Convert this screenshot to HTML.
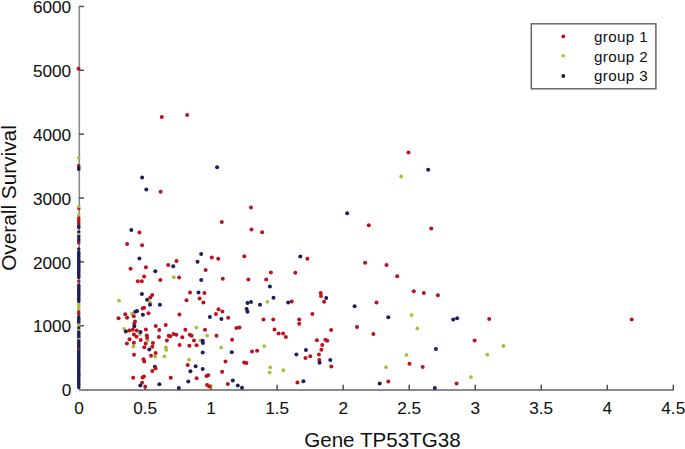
<!DOCTYPE html>
<html><head><meta charset="utf-8"><style>
html,body{margin:0;padding:0;background:#fff;}
svg{display:block;}
text{font-family:"Liberation Sans",sans-serif;fill:#111;}
</style></head><body>
<svg width="685" height="449" viewBox="0 0 685 449">
<rect width="685" height="449" fill="#fff"/>
<g font-size="17.2" stroke="#111" stroke-width="0.08">
<text x="71.2" y="396.26" text-anchor="end">0</text>
<text x="71.2" y="332.39" text-anchor="end">1000</text>
<text x="71.2" y="268.52" text-anchor="end">2000</text>
<text x="71.2" y="204.65" text-anchor="end">3000</text>
<text x="71.2" y="140.78" text-anchor="end">4000</text>
<text x="71.2" y="76.91" text-anchor="end">5000</text>
<text x="71.2" y="13.04" text-anchor="end">6000</text>
<text x="79.10" y="413.6" text-anchor="middle">0</text>
<text x="145.12" y="413.6" text-anchor="middle">0.5</text>
<text x="211.14" y="413.6" text-anchor="middle">1</text>
<text x="277.16" y="413.6" text-anchor="middle">1.5</text>
<text x="343.18" y="413.6" text-anchor="middle">2</text>
<text x="409.20" y="413.6" text-anchor="middle">2.5</text>
<text x="475.22" y="413.6" text-anchor="middle">3</text>
<text x="541.24" y="413.6" text-anchor="middle">3.5</text>
<text x="607.26" y="413.6" text-anchor="middle">4</text>
<text x="673.28" y="413.6" text-anchor="middle">4.5</text>
</g>
<text x="304.2" y="447.2" font-size="20.6">Gene TP53TG38</text>
<text transform="translate(16.4,198) rotate(-90)" text-anchor="middle" font-size="20.8">Overall Survival</text>
<line x1="79.3" y1="6.5" x2="79.3" y2="390" stroke="#8a8a8a" stroke-width="1.6"/>
<line x1="79" y1="390" x2="673.5" y2="390" stroke="#8a8a8a" stroke-width="1.8"/>

<line x1="79" y1="325.79" x2="84" y2="325.79" stroke="#505050" stroke-width="1.5"/>
<line x1="79" y1="261.92" x2="84" y2="261.92" stroke="#505050" stroke-width="1.5"/>
<line x1="79" y1="198.05" x2="84" y2="198.05" stroke="#505050" stroke-width="1.5"/>
<line x1="79" y1="134.18" x2="84" y2="134.18" stroke="#505050" stroke-width="1.5"/>
<line x1="79" y1="70.31" x2="84" y2="70.31" stroke="#505050" stroke-width="1.5"/>
<line x1="79" y1="6.44" x2="84" y2="6.44" stroke="#505050" stroke-width="1.5"/>
<line x1="145.12" y1="390" x2="145.12" y2="384.8" stroke="#444" stroke-width="1.4"/>
<line x1="211.14" y1="390" x2="211.14" y2="384.8" stroke="#444" stroke-width="1.4"/>
<line x1="277.16" y1="390" x2="277.16" y2="384.8" stroke="#444" stroke-width="1.4"/>
<line x1="343.18" y1="390" x2="343.18" y2="384.8" stroke="#444" stroke-width="1.4"/>
<line x1="409.20" y1="390" x2="409.20" y2="384.8" stroke="#444" stroke-width="1.4"/>
<line x1="475.22" y1="390" x2="475.22" y2="384.8" stroke="#444" stroke-width="1.4"/>
<line x1="541.24" y1="390" x2="541.24" y2="384.8" stroke="#444" stroke-width="1.4"/>
<line x1="607.26" y1="390" x2="607.26" y2="384.8" stroke="#444" stroke-width="1.4"/>
<line x1="673.28" y1="390" x2="673.28" y2="384.8" stroke="#444" stroke-width="1.4"/>

<g>
<circle cx="78.75" cy="157.7" r="1.75" fill="#b0bb34"/>
<circle cx="78.75" cy="165.4" r="1.75" fill="#c0101e"/>
<circle cx="78.75" cy="167.6" r="1.75" fill="#1b1d60"/>
<circle cx="78.75" cy="169.2" r="1.75" fill="#1b1d60"/>
<circle cx="78.75" cy="208.5" r="1.75" fill="#c0101e"/>
<circle cx="78.75" cy="206.7" r="1.75" fill="#b0bb34"/>
<circle cx="78.75" cy="214.9" r="1.75" fill="#b0bb34"/>
<circle cx="78.75" cy="218.0" r="1.75" fill="#c0101e"/>
<circle cx="78.75" cy="220.0" r="1.75" fill="#c0101e"/>
<circle cx="78.75" cy="222.0" r="1.75" fill="#c0101e"/>
<circle cx="78.75" cy="224.0" r="1.75" fill="#c0101e"/>
<circle cx="78.75" cy="226.0" r="1.75" fill="#1b1d60"/>
<circle cx="78.75" cy="227.5" r="1.75" fill="#1b1d60"/>
<circle cx="78.75" cy="232.0" r="1.75" fill="#1b1d60"/>
<circle cx="78.75" cy="234.7" r="1.75" fill="#b0bb34"/>
<circle cx="78.75" cy="236.5" r="1.75" fill="#1b1d60"/>
<circle cx="78.75" cy="239.0" r="1.75" fill="#1b1d60"/>
<circle cx="78.75" cy="241.0" r="1.75" fill="#1b1d60"/>
<circle cx="78.75" cy="242.9" r="1.75" fill="#c0101e"/>
<circle cx="78.75" cy="249.0" r="1.75" fill="#1b1d60"/>
<circle cx="78.75" cy="261.0" r="1.75" fill="#c0101e"/>
<circle cx="78.75" cy="252.0" r="1.75" fill="#1b1d60"/>
<circle cx="78.75" cy="253.5" r="1.75" fill="#1b1d60"/>
<circle cx="78.75" cy="255.0" r="1.75" fill="#1b1d60"/>
<circle cx="78.75" cy="256.5" r="1.75" fill="#1b1d60"/>
<circle cx="78.75" cy="258.0" r="1.75" fill="#1b1d60"/>
<circle cx="78.75" cy="259.5" r="1.75" fill="#1b1d60"/>
<circle cx="78.75" cy="261.0" r="1.75" fill="#1b1d60"/>
<circle cx="78.75" cy="262.5" r="1.75" fill="#1b1d60"/>
<circle cx="78.75" cy="264.0" r="1.75" fill="#1b1d60"/>
<circle cx="78.75" cy="265.5" r="1.75" fill="#1b1d60"/>
<circle cx="78.75" cy="267.0" r="1.75" fill="#1b1d60"/>
<circle cx="78.75" cy="268.5" r="1.75" fill="#1b1d60"/>
<circle cx="78.75" cy="270.0" r="1.75" fill="#1b1d60"/>
<circle cx="78.75" cy="271.5" r="1.75" fill="#1b1d60"/>
<circle cx="78.75" cy="273.0" r="1.75" fill="#1b1d60"/>
<circle cx="78.75" cy="274.5" r="1.75" fill="#1b1d60"/>
<circle cx="78.75" cy="276.0" r="1.75" fill="#1b1d60"/>
<circle cx="78.75" cy="277.5" r="1.75" fill="#1b1d60"/>
<circle cx="78.75" cy="281.3" r="1.75" fill="#c0101e"/>
<circle cx="78.75" cy="285.0" r="1.75" fill="#1b1d60"/>
<circle cx="78.75" cy="286.5" r="1.75" fill="#1b1d60"/>
<circle cx="78.75" cy="288.0" r="1.75" fill="#1b1d60"/>
<circle cx="78.75" cy="289.5" r="1.75" fill="#1b1d60"/>
<circle cx="78.75" cy="291.0" r="1.75" fill="#1b1d60"/>
<circle cx="78.75" cy="292.5" r="1.75" fill="#1b1d60"/>
<circle cx="78.75" cy="294.0" r="1.75" fill="#1b1d60"/>
<circle cx="78.75" cy="295.5" r="1.75" fill="#1b1d60"/>
<circle cx="78.75" cy="297.0" r="1.75" fill="#1b1d60"/>
<circle cx="78.75" cy="298.5" r="1.75" fill="#1b1d60"/>
<circle cx="78.75" cy="300.0" r="1.75" fill="#1b1d60"/>
<circle cx="78.75" cy="301.5" r="1.75" fill="#1b1d60"/>
<circle cx="78.75" cy="304.5" r="1.75" fill="#b0bb34"/>
<circle cx="78.75" cy="307.0" r="1.75" fill="#b0bb34"/>
<circle cx="78.75" cy="309.5" r="1.75" fill="#b0bb34"/>
<circle cx="78.75" cy="312.0" r="1.75" fill="#c0101e"/>
<circle cx="78.75" cy="314.0" r="1.75" fill="#c0101e"/>
<circle cx="78.75" cy="317.0" r="1.75" fill="#1b1d60"/>
<circle cx="78.75" cy="318.5" r="1.75" fill="#1b1d60"/>
<circle cx="78.75" cy="320.0" r="1.75" fill="#1b1d60"/>
<circle cx="78.75" cy="321.5" r="1.75" fill="#1b1d60"/>
<circle cx="78.75" cy="323.0" r="1.75" fill="#1b1d60"/>
<circle cx="78.75" cy="325.0" r="1.75" fill="#b0bb34"/>
<circle cx="78.75" cy="328.0" r="1.75" fill="#1b1d60"/>
<circle cx="78.75" cy="330.6" r="1.75" fill="#b0bb34"/>
<circle cx="78.75" cy="332.0" r="1.75" fill="#1b1d60"/>
<circle cx="78.75" cy="333.5" r="1.75" fill="#1b1d60"/>
<circle cx="78.75" cy="335.0" r="1.75" fill="#1b1d60"/>
<circle cx="78.75" cy="336.5" r="1.75" fill="#1b1d60"/>
<circle cx="78.75" cy="338.0" r="1.75" fill="#1b1d60"/>
<circle cx="78.75" cy="339.5" r="1.75" fill="#b0bb34"/>
<circle cx="78.75" cy="341.0" r="1.75" fill="#1b1d60"/>
<circle cx="78.75" cy="342.5" r="1.75" fill="#1b1d60"/>
<circle cx="78.75" cy="344.0" r="1.75" fill="#1b1d60"/>
<circle cx="78.75" cy="345.5" r="1.75" fill="#1b1d60"/>
<circle cx="78.75" cy="347.0" r="1.75" fill="#1b1d60"/>
<circle cx="78.75" cy="348.5" r="1.75" fill="#1b1d60"/>
<circle cx="78.75" cy="350.0" r="1.75" fill="#c0101e"/>
<circle cx="78.75" cy="374.4" r="1.75" fill="#c0101e"/>
<circle cx="78.75" cy="351.5" r="1.75" fill="#1b1d60"/>
<circle cx="78.75" cy="353.0" r="1.75" fill="#1b1d60"/>
<circle cx="78.75" cy="354.5" r="1.75" fill="#1b1d60"/>
<circle cx="78.75" cy="356.0" r="1.75" fill="#1b1d60"/>
<circle cx="78.75" cy="357.5" r="1.75" fill="#1b1d60"/>
<circle cx="78.75" cy="359.0" r="1.75" fill="#1b1d60"/>
<circle cx="78.75" cy="360.5" r="1.75" fill="#1b1d60"/>
<circle cx="78.75" cy="362.0" r="1.75" fill="#1b1d60"/>
<circle cx="78.75" cy="363.5" r="1.75" fill="#1b1d60"/>
<circle cx="78.75" cy="365.0" r="1.75" fill="#1b1d60"/>
<circle cx="78.75" cy="366.5" r="1.75" fill="#1b1d60"/>
<circle cx="78.75" cy="368.0" r="1.75" fill="#1b1d60"/>
<circle cx="78.75" cy="369.5" r="1.75" fill="#1b1d60"/>
<circle cx="78.75" cy="371.0" r="1.75" fill="#1b1d60"/>
<circle cx="78.75" cy="372.5" r="1.75" fill="#1b1d60"/>
<circle cx="78.75" cy="374.0" r="1.75" fill="#1b1d60"/>
<circle cx="78.75" cy="375.5" r="1.75" fill="#1b1d60"/>
<circle cx="78.75" cy="377.0" r="1.75" fill="#1b1d60"/>
<circle cx="78.75" cy="378.5" r="1.75" fill="#1b1d60"/>
<circle cx="78.75" cy="380.0" r="1.75" fill="#1b1d60"/>
<circle cx="78.75" cy="381.5" r="1.75" fill="#1b1d60"/>
<circle cx="78.75" cy="383.0" r="1.75" fill="#1b1d60"/>
<circle cx="78.75" cy="384.5" r="1.75" fill="#1b1d60"/>
<circle cx="78.75" cy="386.0" r="1.75" fill="#1b1d60"/>
<circle cx="78.75" cy="387.5" r="1.75" fill="#1b1d60"/>
<circle cx="401.20" cy="176.5" r="1.9" fill="#b0bb34"/>
<circle cx="503.40" cy="346.0" r="1.9" fill="#b0bb34"/>
<circle cx="487.30" cy="354.7" r="1.9" fill="#b0bb34"/>
<circle cx="173.80" cy="277.2" r="1.9" fill="#b0bb34"/>
<circle cx="150.00" cy="302.2" r="1.9" fill="#b0bb34"/>
<circle cx="119.10" cy="300.7" r="1.9" fill="#b0bb34"/>
<circle cx="132.10" cy="313.7" r="1.9" fill="#b0bb34"/>
<circle cx="267.40" cy="301.8" r="1.9" fill="#b0bb34"/>
<circle cx="124.30" cy="329.0" r="1.9" fill="#b0bb34"/>
<circle cx="139.80" cy="334.1" r="1.9" fill="#b0bb34"/>
<circle cx="147.50" cy="340.0" r="1.9" fill="#b0bb34"/>
<circle cx="133.40" cy="346.5" r="1.9" fill="#b0bb34"/>
<circle cx="155.20" cy="356.4" r="1.9" fill="#b0bb34"/>
<circle cx="196.30" cy="327.6" r="1.9" fill="#b0bb34"/>
<circle cx="207.20" cy="335.6" r="1.9" fill="#b0bb34"/>
<circle cx="200.50" cy="340.5" r="1.9" fill="#b0bb34"/>
<circle cx="189.10" cy="359.7" r="1.9" fill="#b0bb34"/>
<circle cx="210.80" cy="385.8" r="1.9" fill="#b0bb34"/>
<circle cx="221.20" cy="347.6" r="1.9" fill="#b0bb34"/>
<circle cx="264.20" cy="346.1" r="1.9" fill="#b0bb34"/>
<circle cx="270.20" cy="367.3" r="1.9" fill="#b0bb34"/>
<circle cx="269.70" cy="372.4" r="1.9" fill="#b0bb34"/>
<circle cx="283.30" cy="370.2" r="1.9" fill="#b0bb34"/>
<circle cx="411.70" cy="315.1" r="1.9" fill="#b0bb34"/>
<circle cx="417.30" cy="328.5" r="1.9" fill="#b0bb34"/>
<circle cx="406.50" cy="354.9" r="1.9" fill="#b0bb34"/>
<circle cx="386.00" cy="367.2" r="1.9" fill="#b0bb34"/>
<circle cx="470.90" cy="377.1" r="1.9" fill="#b0bb34"/>
<circle cx="165.90" cy="347.5" r="1.9" fill="#b0bb34"/>
<circle cx="166.20" cy="349.9" r="1.9" fill="#b0bb34"/>
<circle cx="164.40" cy="356.3" r="1.9" fill="#b0bb34"/>
<circle cx="78.50" cy="68.8" r="2.0" fill="#c0101e"/>
<circle cx="161.80" cy="117.1" r="2.0" fill="#c0101e"/>
<circle cx="187.10" cy="115.1" r="2.0" fill="#c0101e"/>
<circle cx="160.60" cy="191.8" r="2.0" fill="#c0101e"/>
<circle cx="408.50" cy="152.4" r="2.0" fill="#c0101e"/>
<circle cx="368.80" cy="225.3" r="2.0" fill="#c0101e"/>
<circle cx="431.30" cy="228.5" r="2.0" fill="#c0101e"/>
<circle cx="251.00" cy="207.5" r="2.0" fill="#c0101e"/>
<circle cx="221.80" cy="222.1" r="2.0" fill="#c0101e"/>
<circle cx="251.50" cy="229.4" r="2.0" fill="#c0101e"/>
<circle cx="262.10" cy="232.2" r="2.0" fill="#c0101e"/>
<circle cx="139.40" cy="232.4" r="2.0" fill="#c0101e"/>
<circle cx="127.10" cy="244.1" r="2.0" fill="#c0101e"/>
<circle cx="142.10" cy="245.3" r="2.0" fill="#c0101e"/>
<circle cx="489.20" cy="319.1" r="2.0" fill="#c0101e"/>
<circle cx="631.70" cy="319.5" r="2.0" fill="#c0101e"/>
<circle cx="130.60" cy="268.8" r="2.0" fill="#c0101e"/>
<circle cx="145.90" cy="267.2" r="2.0" fill="#c0101e"/>
<circle cx="168.20" cy="265.1" r="2.0" fill="#c0101e"/>
<circle cx="144.10" cy="276.5" r="2.0" fill="#c0101e"/>
<circle cx="137.80" cy="281.2" r="2.0" fill="#c0101e"/>
<circle cx="141.80" cy="281.2" r="2.0" fill="#c0101e"/>
<circle cx="160.30" cy="279.9" r="2.0" fill="#c0101e"/>
<circle cx="142.60" cy="308.5" r="2.0" fill="#c0101e"/>
<circle cx="144.10" cy="307.8" r="2.0" fill="#c0101e"/>
<circle cx="148.50" cy="313.2" r="2.0" fill="#c0101e"/>
<circle cx="125.30" cy="314.3" r="2.0" fill="#c0101e"/>
<circle cx="176.50" cy="261.0" r="2.0" fill="#c0101e"/>
<circle cx="211.80" cy="257.4" r="2.0" fill="#c0101e"/>
<circle cx="218.20" cy="258.8" r="2.0" fill="#c0101e"/>
<circle cx="244.30" cy="256.3" r="2.0" fill="#c0101e"/>
<circle cx="205.60" cy="269.9" r="2.0" fill="#c0101e"/>
<circle cx="179.10" cy="277.5" r="2.0" fill="#c0101e"/>
<circle cx="222.80" cy="278.8" r="2.0" fill="#c0101e"/>
<circle cx="248.40" cy="279.4" r="2.0" fill="#c0101e"/>
<circle cx="266.20" cy="279.4" r="2.0" fill="#c0101e"/>
<circle cx="270.90" cy="272.5" r="2.0" fill="#c0101e"/>
<circle cx="190.00" cy="292.6" r="2.0" fill="#c0101e"/>
<circle cx="204.40" cy="292.9" r="2.0" fill="#c0101e"/>
<circle cx="186.50" cy="300.3" r="2.0" fill="#c0101e"/>
<circle cx="199.60" cy="298.5" r="2.0" fill="#c0101e"/>
<circle cx="203.40" cy="302.4" r="2.0" fill="#c0101e"/>
<circle cx="218.50" cy="309.3" r="2.0" fill="#c0101e"/>
<circle cx="222.40" cy="311.5" r="2.0" fill="#c0101e"/>
<circle cx="215.90" cy="314.1" r="2.0" fill="#c0101e"/>
<circle cx="179.40" cy="314.4" r="2.0" fill="#c0101e"/>
<circle cx="307.40" cy="258.8" r="2.0" fill="#c0101e"/>
<circle cx="365.10" cy="262.8" r="2.0" fill="#c0101e"/>
<circle cx="295.30" cy="272.8" r="2.0" fill="#c0101e"/>
<circle cx="320.70" cy="292.9" r="2.0" fill="#c0101e"/>
<circle cx="321.00" cy="296.0" r="2.0" fill="#c0101e"/>
<circle cx="324.10" cy="301.8" r="2.0" fill="#c0101e"/>
<circle cx="291.80" cy="301.5" r="2.0" fill="#c0101e"/>
<circle cx="312.40" cy="314.0" r="2.0" fill="#c0101e"/>
<circle cx="386.50" cy="264.9" r="2.0" fill="#c0101e"/>
<circle cx="397.20" cy="276.2" r="2.0" fill="#c0101e"/>
<circle cx="413.80" cy="291.2" r="2.0" fill="#c0101e"/>
<circle cx="423.80" cy="292.9" r="2.0" fill="#c0101e"/>
<circle cx="437.90" cy="295.3" r="2.0" fill="#c0101e"/>
<circle cx="376.50" cy="302.5" r="2.0" fill="#c0101e"/>
<circle cx="118.50" cy="318.3" r="2.0" fill="#c0101e"/>
<circle cx="127.10" cy="317.7" r="2.0" fill="#c0101e"/>
<circle cx="133.80" cy="316.2" r="2.0" fill="#c0101e"/>
<circle cx="135.00" cy="321.6" r="2.0" fill="#c0101e"/>
<circle cx="134.30" cy="323.8" r="2.0" fill="#c0101e"/>
<circle cx="129.30" cy="330.6" r="2.0" fill="#c0101e"/>
<circle cx="132.80" cy="329.7" r="2.0" fill="#c0101e"/>
<circle cx="136.80" cy="330.4" r="2.0" fill="#c0101e"/>
<circle cx="145.90" cy="329.5" r="2.0" fill="#c0101e"/>
<circle cx="155.70" cy="326.0" r="2.0" fill="#c0101e"/>
<circle cx="159.30" cy="329.9" r="2.0" fill="#c0101e"/>
<circle cx="133.90" cy="334.6" r="2.0" fill="#c0101e"/>
<circle cx="136.50" cy="336.7" r="2.0" fill="#c0101e"/>
<circle cx="146.80" cy="335.6" r="2.0" fill="#c0101e"/>
<circle cx="147.10" cy="337.8" r="2.0" fill="#c0101e"/>
<circle cx="129.50" cy="339.3" r="2.0" fill="#c0101e"/>
<circle cx="140.70" cy="340.0" r="2.0" fill="#c0101e"/>
<circle cx="158.90" cy="337.0" r="2.0" fill="#c0101e"/>
<circle cx="165.70" cy="325.1" r="2.0" fill="#c0101e"/>
<circle cx="173.50" cy="334.0" r="2.0" fill="#c0101e"/>
<circle cx="168.70" cy="335.7" r="2.0" fill="#c0101e"/>
<circle cx="166.90" cy="340.6" r="2.0" fill="#c0101e"/>
<circle cx="126.90" cy="343.5" r="2.0" fill="#c0101e"/>
<circle cx="133.90" cy="342.8" r="2.0" fill="#c0101e"/>
<circle cx="145.70" cy="343.5" r="2.0" fill="#c0101e"/>
<circle cx="144.30" cy="347.2" r="2.0" fill="#c0101e"/>
<circle cx="152.90" cy="343.1" r="2.0" fill="#c0101e"/>
<circle cx="152.30" cy="346.7" r="2.0" fill="#c0101e"/>
<circle cx="134.00" cy="354.8" r="2.0" fill="#c0101e"/>
<circle cx="155.60" cy="353.1" r="2.0" fill="#c0101e"/>
<circle cx="151.00" cy="355.8" r="2.0" fill="#c0101e"/>
<circle cx="143.50" cy="359.3" r="2.0" fill="#c0101e"/>
<circle cx="144.30" cy="361.5" r="2.0" fill="#c0101e"/>
<circle cx="152.30" cy="371.0" r="2.0" fill="#c0101e"/>
<circle cx="133.20" cy="377.8" r="2.0" fill="#c0101e"/>
<circle cx="142.50" cy="377.4" r="2.0" fill="#c0101e"/>
<circle cx="144.00" cy="376.5" r="2.0" fill="#c0101e"/>
<circle cx="142.10" cy="382.7" r="2.0" fill="#c0101e"/>
<circle cx="145.20" cy="386.7" r="2.0" fill="#c0101e"/>
<circle cx="185.40" cy="329.8" r="2.0" fill="#c0101e"/>
<circle cx="205.00" cy="329.8" r="2.0" fill="#c0101e"/>
<circle cx="170.20" cy="336.2" r="2.0" fill="#c0101e"/>
<circle cx="176.30" cy="334.8" r="2.0" fill="#c0101e"/>
<circle cx="182.30" cy="337.2" r="2.0" fill="#c0101e"/>
<circle cx="189.80" cy="334.8" r="2.0" fill="#c0101e"/>
<circle cx="191.60" cy="335.8" r="2.0" fill="#c0101e"/>
<circle cx="216.50" cy="335.8" r="2.0" fill="#c0101e"/>
<circle cx="194.00" cy="340.5" r="2.0" fill="#c0101e"/>
<circle cx="179.60" cy="344.9" r="2.0" fill="#c0101e"/>
<circle cx="189.40" cy="345.8" r="2.0" fill="#c0101e"/>
<circle cx="196.50" cy="345.2" r="2.0" fill="#c0101e"/>
<circle cx="187.70" cy="365.1" r="2.0" fill="#c0101e"/>
<circle cx="170.70" cy="377.7" r="2.0" fill="#c0101e"/>
<circle cx="196.60" cy="378.3" r="2.0" fill="#c0101e"/>
<circle cx="206.40" cy="376.0" r="2.0" fill="#c0101e"/>
<circle cx="208.20" cy="375.2" r="2.0" fill="#c0101e"/>
<circle cx="207.10" cy="385.0" r="2.0" fill="#c0101e"/>
<circle cx="209.20" cy="386.4" r="2.0" fill="#c0101e"/>
<circle cx="228.20" cy="317.7" r="2.0" fill="#c0101e"/>
<circle cx="263.50" cy="319.6" r="2.0" fill="#c0101e"/>
<circle cx="273.30" cy="319.6" r="2.0" fill="#c0101e"/>
<circle cx="236.40" cy="328.1" r="2.0" fill="#c0101e"/>
<circle cx="239.50" cy="327.4" r="2.0" fill="#c0101e"/>
<circle cx="274.50" cy="329.6" r="2.0" fill="#c0101e"/>
<circle cx="232.10" cy="339.7" r="2.0" fill="#c0101e"/>
<circle cx="252.00" cy="351.5" r="2.0" fill="#c0101e"/>
<circle cx="257.10" cy="350.8" r="2.0" fill="#c0101e"/>
<circle cx="225.50" cy="361.5" r="2.0" fill="#c0101e"/>
<circle cx="244.10" cy="362.6" r="2.0" fill="#c0101e"/>
<circle cx="246.40" cy="363.1" r="2.0" fill="#c0101e"/>
<circle cx="222.10" cy="371.7" r="2.0" fill="#c0101e"/>
<circle cx="227.80" cy="384.0" r="2.0" fill="#c0101e"/>
<circle cx="299.20" cy="319.5" r="2.0" fill="#c0101e"/>
<circle cx="299.20" cy="323.7" r="2.0" fill="#c0101e"/>
<circle cx="278.60" cy="333.4" r="2.0" fill="#c0101e"/>
<circle cx="283.10" cy="333.4" r="2.0" fill="#c0101e"/>
<circle cx="285.90" cy="337.0" r="2.0" fill="#c0101e"/>
<circle cx="331.10" cy="330.1" r="2.0" fill="#c0101e"/>
<circle cx="357.00" cy="327.0" r="2.0" fill="#c0101e"/>
<circle cx="316.90" cy="340.2" r="2.0" fill="#c0101e"/>
<circle cx="325.40" cy="339.7" r="2.0" fill="#c0101e"/>
<circle cx="327.30" cy="340.8" r="2.0" fill="#c0101e"/>
<circle cx="322.20" cy="345.0" r="2.0" fill="#c0101e"/>
<circle cx="321.40" cy="349.8" r="2.0" fill="#c0101e"/>
<circle cx="318.90" cy="354.6" r="2.0" fill="#c0101e"/>
<circle cx="310.20" cy="356.3" r="2.0" fill="#c0101e"/>
<circle cx="305.50" cy="358.0" r="2.0" fill="#c0101e"/>
<circle cx="319.30" cy="360.0" r="2.0" fill="#c0101e"/>
<circle cx="331.30" cy="366.5" r="2.0" fill="#c0101e"/>
<circle cx="297.40" cy="382.4" r="2.0" fill="#c0101e"/>
<circle cx="373.40" cy="333.9" r="2.0" fill="#c0101e"/>
<circle cx="474.60" cy="340.4" r="2.0" fill="#c0101e"/>
<circle cx="409.50" cy="363.7" r="2.0" fill="#c0101e"/>
<circle cx="422.70" cy="367.0" r="2.0" fill="#c0101e"/>
<circle cx="388.30" cy="381.4" r="2.0" fill="#c0101e"/>
<circle cx="456.60" cy="383.6" r="2.0" fill="#c0101e"/>
<circle cx="142.10" cy="177.4" r="2.0" fill="#1b1d60"/>
<circle cx="146.30" cy="189.6" r="2.0" fill="#1b1d60"/>
<circle cx="217.10" cy="167.2" r="2.0" fill="#1b1d60"/>
<circle cx="428.20" cy="169.7" r="2.0" fill="#1b1d60"/>
<circle cx="347.10" cy="213.2" r="2.0" fill="#1b1d60"/>
<circle cx="201.20" cy="254.1" r="2.0" fill="#1b1d60"/>
<circle cx="131.30" cy="229.9" r="2.0" fill="#1b1d60"/>
<circle cx="139.40" cy="258.5" r="2.0" fill="#1b1d60"/>
<circle cx="155.30" cy="271.3" r="2.0" fill="#1b1d60"/>
<circle cx="173.20" cy="266.2" r="2.0" fill="#1b1d60"/>
<circle cx="141.90" cy="294.1" r="2.0" fill="#1b1d60"/>
<circle cx="147.10" cy="299.7" r="2.0" fill="#1b1d60"/>
<circle cx="150.00" cy="304.7" r="2.0" fill="#1b1d60"/>
<circle cx="159.90" cy="304.7" r="2.0" fill="#1b1d60"/>
<circle cx="135.30" cy="311.8" r="2.0" fill="#1b1d60"/>
<circle cx="137.10" cy="311.0" r="2.0" fill="#1b1d60"/>
<circle cx="142.90" cy="314.7" r="2.0" fill="#1b1d60"/>
<circle cx="197.50" cy="261.8" r="2.0" fill="#1b1d60"/>
<circle cx="201.20" cy="279.9" r="2.0" fill="#1b1d60"/>
<circle cx="269.90" cy="286.5" r="2.0" fill="#1b1d60"/>
<circle cx="198.50" cy="292.6" r="2.0" fill="#1b1d60"/>
<circle cx="247.50" cy="302.9" r="2.0" fill="#1b1d60"/>
<circle cx="251.00" cy="301.9" r="2.0" fill="#1b1d60"/>
<circle cx="260.00" cy="304.7" r="2.0" fill="#1b1d60"/>
<circle cx="273.50" cy="297.8" r="2.0" fill="#1b1d60"/>
<circle cx="246.60" cy="309.1" r="2.0" fill="#1b1d60"/>
<circle cx="247.50" cy="311.8" r="2.0" fill="#1b1d60"/>
<circle cx="300.30" cy="256.5" r="2.0" fill="#1b1d60"/>
<circle cx="326.20" cy="297.9" r="2.0" fill="#1b1d60"/>
<circle cx="288.20" cy="302.4" r="2.0" fill="#1b1d60"/>
<circle cx="354.60" cy="306.3" r="2.0" fill="#1b1d60"/>
<circle cx="134.30" cy="326.2" r="2.0" fill="#1b1d60"/>
<circle cx="125.80" cy="331.5" r="2.0" fill="#1b1d60"/>
<circle cx="140.50" cy="332.1" r="2.0" fill="#1b1d60"/>
<circle cx="149.30" cy="349.4" r="2.0" fill="#1b1d60"/>
<circle cx="154.90" cy="366.7" r="2.0" fill="#1b1d60"/>
<circle cx="140.30" cy="385.6" r="2.0" fill="#1b1d60"/>
<circle cx="159.40" cy="384.2" r="2.0" fill="#1b1d60"/>
<circle cx="209.90" cy="316.9" r="2.0" fill="#1b1d60"/>
<circle cx="202.70" cy="340.7" r="2.0" fill="#1b1d60"/>
<circle cx="202.90" cy="343.1" r="2.0" fill="#1b1d60"/>
<circle cx="202.70" cy="352.5" r="2.0" fill="#1b1d60"/>
<circle cx="195.60" cy="366.2" r="2.0" fill="#1b1d60"/>
<circle cx="202.70" cy="369.1" r="2.0" fill="#1b1d60"/>
<circle cx="190.40" cy="371.2" r="2.0" fill="#1b1d60"/>
<circle cx="188.30" cy="381.6" r="2.0" fill="#1b1d60"/>
<circle cx="178.80" cy="387.9" r="2.0" fill="#1b1d60"/>
<circle cx="221.40" cy="318.9" r="2.0" fill="#1b1d60"/>
<circle cx="231.80" cy="352.3" r="2.0" fill="#1b1d60"/>
<circle cx="232.80" cy="380.4" r="2.0" fill="#1b1d60"/>
<circle cx="237.80" cy="385.6" r="2.0" fill="#1b1d60"/>
<circle cx="242.00" cy="387.7" r="2.0" fill="#1b1d60"/>
<circle cx="305.90" cy="349.9" r="2.0" fill="#1b1d60"/>
<circle cx="296.40" cy="354.5" r="2.0" fill="#1b1d60"/>
<circle cx="319.60" cy="362.8" r="2.0" fill="#1b1d60"/>
<circle cx="330.30" cy="360.0" r="2.0" fill="#1b1d60"/>
<circle cx="303.40" cy="381.2" r="2.0" fill="#1b1d60"/>
<circle cx="388.30" cy="317.3" r="2.0" fill="#1b1d60"/>
<circle cx="453.20" cy="319.4" r="2.0" fill="#1b1d60"/>
<circle cx="457.10" cy="318.3" r="2.0" fill="#1b1d60"/>
<circle cx="435.90" cy="349.0" r="2.0" fill="#1b1d60"/>
<circle cx="379.70" cy="383.6" r="2.0" fill="#1b1d60"/>
<circle cx="434.80" cy="387.9" r="2.0" fill="#1b1d60"/>
<circle cx="152.20" cy="295.1" r="2.0" fill="#c0101e"/>
<circle cx="150.30" cy="297.4" r="2.0" fill="#c0101e"/>
<circle cx="155.60" cy="368.5" r="2.0" fill="#c0101e"/>
</g>
<rect x="531.3" y="23.8" width="124.6" height="65.0" fill="#fff" stroke="#666" stroke-width="1.5"/>
<circle cx="563.3" cy="36.4" r="1.9" fill="#c0101e"/>
<circle cx="563.3" cy="55.7" r="1.8" fill="#b0bb34"/>
<circle cx="563.3" cy="76.0" r="1.9" fill="#1a1a48"/>
<g font-size="15.2" letter-spacing="0.35">
<text x="594.0" y="41.9">group 1</text>
<text x="594.0" y="61.7">group 2</text>
<text x="594.0" y="81.2">group 3</text>
</g>
</svg>
</body></html>
